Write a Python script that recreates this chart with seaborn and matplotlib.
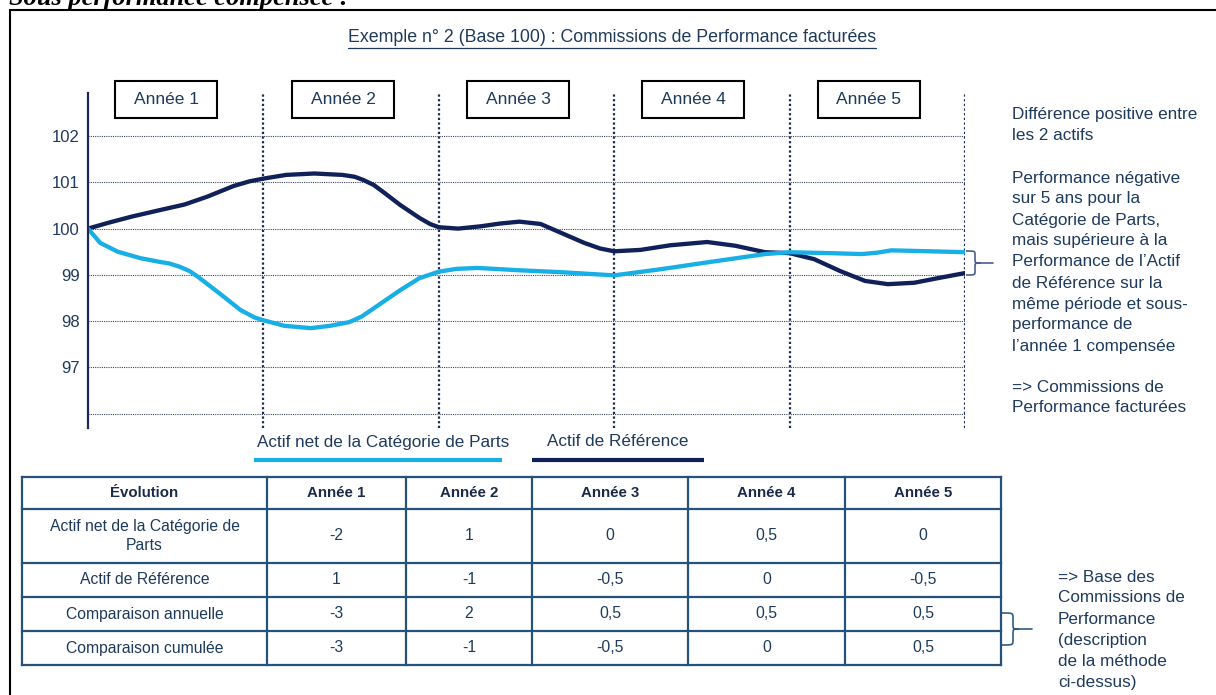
import numpy as np
import pandas as pd
import matplotlib
matplotlib.use("Agg")
import matplotlib.pyplot as plt
import seaborn as sns
from matplotlib.path import Path
from matplotlib.patches import PathPatch, Rectangle

# ---------------- data ----------------
annees = ["Année 1", "Année 2", "Année 3", "Année 4", "Année 5"]

# Actif de Référence (base 100)
t_ref = [0, 0.12, 0.25, 0.41, 0.55, 0.68, 0.83, 0.92, 1.0, 1.13, 1.29, 1.45, 1.52, 1.57,
         1.63, 1.68, 1.78, 1.89, 1.95, 2.0, 2.11, 2.24, 2.35, 2.46, 2.58, 2.69, 2.83,
         2.92, 3.0, 3.15, 3.32, 3.53, 3.69, 3.86, 4.0, 4.14, 4.29, 4.43, 4.56, 4.71,
         4.86, 5.0]
v_ref = [100.0, 100.13, 100.26, 100.4, 100.52, 100.69, 100.92, 101.02, 101.08, 101.16,
         101.19, 101.16, 101.12, 101.05, 100.94, 100.8, 100.51, 100.23, 100.1, 100.03,
         100.0, 100.05, 100.11, 100.15, 100.1, 99.92, 99.69, 99.57, 99.51, 99.54, 99.64,
         99.71, 99.63, 99.49, 99.47, 99.34, 99.08, 98.87, 98.8, 98.83, 98.94, 99.04]

# Actif net de la Catégorie de Parts (base 100)
t_net = [0, 0.07, 0.17, 0.3, 0.41, 0.46, 0.52, 0.58, 0.63, 0.75, 0.87, 0.95, 1.0, 1.12,
         1.27, 1.38, 1.49, 1.56, 1.63, 1.78, 1.89, 2.0, 2.1, 2.22, 2.46, 2.69, 3.0,
         3.26, 3.53, 3.86, 4.0, 4.23, 4.41, 4.5, 4.58, 4.8, 5.0]
v_net = [100.0, 99.69, 99.5, 99.36, 99.28, 99.25, 99.18, 99.08, 98.95, 98.6, 98.24,
         98.08, 98.02, 97.9, 97.85, 97.9, 97.98, 98.1, 98.28, 98.67, 98.93, 99.07, 99.13,
         99.15, 99.1, 99.06, 98.99, 99.12, 99.27, 99.45, 99.49, 99.47, 99.45, 99.48,
         99.53, 99.51, 99.49]

y_ticks = [96, 97, 98, 99, 100, 101, 102]
y_tick_labels = ["", "97", "98", "99", "100", "101", "102"]

legend_labels = ["Actif net de la Catégorie de Parts", "Actif de Référence"]

table_header = ["Évolution"] + annees
row_labels = ["Actif net de la Catégorie de\nParts", "Actif de Référence",
              "Comparaison annuelle", "Comparaison cumulée"]
actif_net = [-2, 1, 0, 0.5, 0]
actif_ref = [1, -1, -0.5, 0, -0.5]
comp_annuelle = [-3, 2, 0.5, 0.5, 0.5]
comp_cumulee = [-3, -1, -0.5, 0, 0.5]

heading = "Sous performance compensée :"
title = "Exemple n° 2 (Base 100) : Commissions de Performance facturées"
note_top = ["Différence positive entre", "les 2 actifs"]
note_mid = ["Performance négative", "sur 5 ans pour la", "Catégorie de Parts,",
            "mais supérieure à la", "Performance de l\u2019Actif", "de Référence sur la",
            "même période et sous-", "performance de", "l\u2019année 1 compensée"]
note_end = ["=> Commissions de", "Performance facturées"]
note_table = ["=> Base des", "Commissions de", "Performance", "(description",
              "de la méthode", "ci-dessus)"]

# ---------------- style ----------------
sns.set_theme(style="white")
plt.rcParams['font.family'] = ['Liberation Sans', 'DejaVu Sans']

NAVY = '#10215a'
LIGHT = '#18aee6'
TXT = '#1e3a5c'
TBL = '#24527a'

W, H = 1216, 695
fig = plt.figure(figsize=(W / 100, H / 100), dpi=100)
fig.patch.set_facecolor('white')

# chart axes placed in pixel coordinates
x0p, x1p, y0p, y1p = 88, 965, 93, 428
ax = fig.add_axes([x0p / W, 1 - y1p / H, (x1p - x0p) / W, (y1p - y0p) / H])
ax.set_facecolor('none')
ax.set_xlim(0, 5)
ax.set_ylim(95.693, 102.929)
for s in ['top', 'right', 'bottom']:
    ax.spines[s].set_visible(False)
ax.spines['left'].set_color('#1c2b55')
ax.spines['left'].set_linewidth(1.6)
ax.set_yticks(y_ticks)
ax.set_yticklabels(y_tick_labels)
ax.tick_params(axis='y', length=0, pad=6, labelsize=12, labelcolor=TXT)
ax.set_xticks([])
ax.yaxis.grid(True, linestyle=(0, (1, 1)), color='#3a4660', linewidth=0.8)
ax.xaxis.grid(False)
for xv in range(1, 6):
    ax.axvline(xv, color='#1c2b55', linestyle=(0, (1, 1.1)), linewidth=1.6)

df_ref = pd.DataFrame({'t': t_ref, 'v': v_ref})
df_net = pd.DataFrame({'t': t_net, 'v': v_net})
sns.lineplot(data=df_ref, x='t', y='v', ax=ax, color=NAVY, linewidth=3.1,
             estimator=None, sort=False, solid_joinstyle='round', solid_capstyle='round')
sns.lineplot(data=df_net, x='t', y='v', ax=ax, color=LIGHT, linewidth=3.1,
             estimator=None, sort=False, solid_joinstyle='round', solid_capstyle='round')
ax.set_xlabel('')
ax.set_ylabel('')

# overlay in pixel coordinates for the document elements
ov = fig.add_axes([0, 0, 1, 1], zorder=5)
ov.set_xlim(0, W)
ov.set_ylim(H, 0)
ov.axis('off')
ov.patch.set_alpha(0)

# heading (cut off at the top, as in the source page) and frame
ov.text(9, 5, heading, fontsize=19, fontweight='bold', fontstyle='italic',
        family=['Liberation Serif', 'DejaVu Serif'], va='baseline', ha='left', color='black')
ov.plot([10, 10, W + 5], [H + 5, 10, 10], color='black', lw=1.5, clip_on=False,
        solid_joinstyle='miter')

# title with underline
t_title = ov.text(612, 38, title, fontsize=12.8, color=TXT, ha='center', va='center')

# year boxes
box_cx = [166, 343, 518, 693, 869]
for cx, lab in zip(box_cx, annees):
    ov.add_patch(Rectangle((cx - 51, 81), 102, 37, fill=False, edgecolor='black', lw=1.5))
    ov.text(cx, 99, lab, fontsize=12.5, color=TXT, ha='center', va='center')

# legend
ov.text(257, 442, legend_labels[0], fontsize=12.3, color=TXT, ha='left', va='center')
ov.plot([254, 502], [460, 460], color=LIGHT, lw=3, solid_capstyle='butt')
ov.text(547, 442, legend_labels[1], fontsize=12.3, color=TXT, ha='left', va='center')
ov.plot([532, 704], [460, 460], color=NAVY, lw=3, solid_capstyle='butt')

# right notes
def lines_at(xs, ys, lines):
    for y, s in zip(ys, lines):
        ov.text(xs, y, s, fontsize=12.3, color=TXT, ha='left', va='center')

lines_at(1012, [115, 136], note_top)
lines_at(1012, [178, 199, 220, 241, 262, 283, 304, 325, 346], note_mid)
lines_at(1012, [387, 408], note_end)
lines_at(1058, [577, 598, 619, 640, 661, 682], note_table)

# braces
def brace(x0, xm, xt, xend, ytop, ybot, r, color):
    ym = (ytop + ybot) / 2
    verts = [(x0, ytop), (xm, ytop), (xm, ytop), (xm, ytop + r),
             (xm, ym - r),
             (xm, ym), (xm, ym), (xt, ym),
             (xm, ym), (xm, ym), (xm, ym + r),
             (xm, ybot - r),
             (xm, ybot), (xm, ybot), (x0, ybot)]
    codes = [Path.MOVETO, Path.CURVE4, Path.CURVE4, Path.CURVE4,
             Path.LINETO,
             Path.CURVE4, Path.CURVE4, Path.CURVE4,
             Path.CURVE4, Path.CURVE4, Path.CURVE4,
             Path.LINETO,
             Path.CURVE4, Path.CURVE4, Path.CURVE4]
    ov.add_patch(PathPatch(Path(verts, codes), fill=False, edgecolor=color, lw=1.2))
    ov.plot([xt, xend], [ym, ym], color=color, lw=1.2)

brace(966, 975, 981, 993, 251, 275, 4, '#4a5f86')
brace(1002, 1013, 1019, 1032, 613, 645, 5, '#2f5d88')

# table
col_edges = [22, 267, 406, 532, 688, 845, 1001]
row_edges = [477, 509, 563, 597, 631, 665]
for x in col_edges:
    ov.plot([x, x], [row_edges[0], row_edges[-1]], color=TBL, lw=1.6, solid_capstyle='projecting')
for y in row_edges:
    ov.plot([col_edges[0], col_edges[-1]], [y, y], color=TBL, lw=1.6, solid_capstyle='projecting')

def fmt(v):
    if float(v).is_integer():
        return str(int(v))
    return str(v).replace('.', ',')

col_c = [(a + b) / 2 for a, b in zip(col_edges[:-1], col_edges[1:])]
row_c = [(a + b) / 2 for a, b in zip(row_edges[:-1], row_edges[1:])]
for cx, lab in zip(col_c, table_header):
    ov.text(cx, row_c[0], lab, fontsize=10.8, fontweight='bold', color='#1a2a48',
            ha='center', va='center')
rows = [actif_net, actif_ref, comp_annuelle, comp_cumulee]
for i, (lab, vals) in enumerate(zip(row_labels, rows)):
    yc = row_c[i + 1]
    if '\n' in lab:
        l1, l2 = lab.split('\n')
        ov.text(col_c[0], yc - 9.5, l1, fontsize=11.3, color=TXT, ha='center', va='center')
        ov.text(col_c[0], yc + 9.5, l2, fontsize=11.3, color=TXT, ha='center', va='center')
    else:
        ov.text(col_c[0], yc, lab, fontsize=11.3, color=TXT, ha='center', va='center')
    for cx, v in zip(col_c[1:], vals):
        ov.text(cx, yc, fmt(v), fontsize=11.3, color=TXT, ha='center', va='center')

# underline of the title from its rendered extent
fig.canvas.draw()
bb = t_title.get_window_extent()
ov.plot([bb.x0, bb.x1], [H - bb.y0 + 1, H - bb.y0 + 1], color=TXT, lw=0.9)

fig.savefig('out.png', dpi=100, facecolor='white')
